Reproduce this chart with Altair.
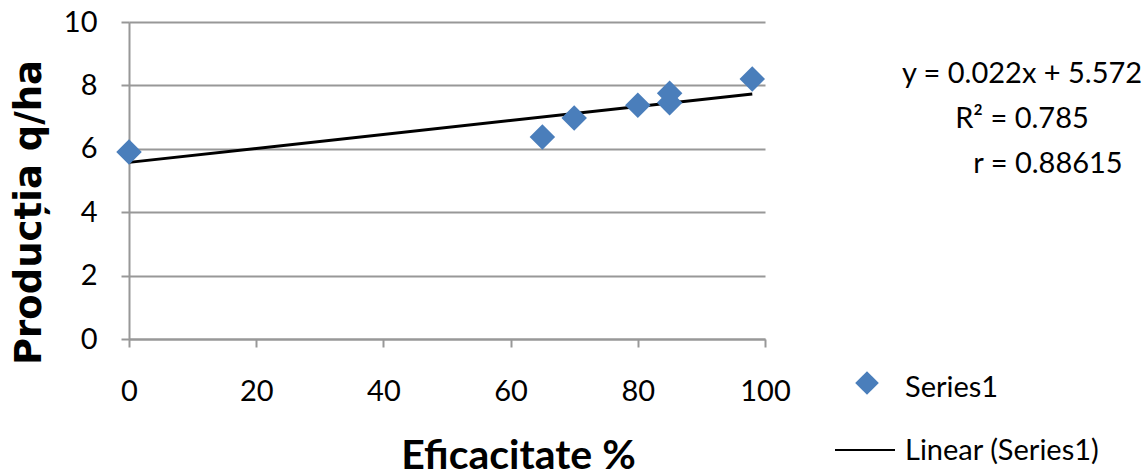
import altair as alt
import pandas as pd

# Observed points: efficacy (%) vs. yield (q/ha)
eficacitate = [0, 65, 70, 80, 85, 85, 98]
productia = [5.9, 6.37, 6.97, 7.37, 7.45, 7.75, 8.2]

# Linear trend as reported
slope = 0.022
intercept = 5.572
trend_x = [0, 98]

equation_lines = ["y = 0.022x + 5.572", "R\u00b2 = 0.785", "r = 0.88615"]
legend_labels = ["Series1", "Linear (Series1)"]

x_ticks = [0, 20, 40, 60, 80, 100]
y_ticks = [0, 2, 4, 6, 8, 10]

BLUE = "#4A7EBB"
GRID = "#989898"
FONT = "Lato"

points = pd.DataFrame({"x": eficacitate, "y": productia})
trend = pd.DataFrame({"x": trend_x, "y": [slope * v + intercept for v in trend_x]})

x_scale = alt.Scale(domain=[0, 100], nice=False)
y_scale = alt.Scale(domain=[0, 10], nice=False)

x_axis = alt.Axis(
    values=x_ticks, title="Eficacitate %", grid=False, labelFlush=False,
    tickSize=8, labelPadding=30, labelFontSize=29, labelFont=FONT,
    titleFont=FONT, titleFontSize=41, titleFontWeight="bold",
    titleX=389, titleY=129, titleBaseline="alphabetic", titleAlign="center",
)
y_axis = alt.Axis(
    values=y_ticks, title="Producția q/ha", grid=True, labelFlush=False,
    tickSize=8, labelPadding=24, labelFontSize=29, labelFont=FONT,
    titleFont="DejaVu Sans", titleFontSize=37, titleFontWeight="bold",
    titleAngle=270, titleX=-89, titleY=190, titleBaseline="alphabetic",
    titleAlign="center",
)

trend_line = alt.Chart(trend).mark_line(color="black", strokeWidth=3, clip=False).encode(
    x=alt.X("x:Q", scale=x_scale, axis=x_axis),
    y=alt.Y("y:Q", scale=y_scale, axis=y_axis),
)

markers = alt.Chart(points).mark_point(
    shape="diamond", filled=True, size=650, color=BLUE, opacity=1, clip=False
).encode(
    x=alt.X("x:Q", scale=x_scale),
    y=alt.Y("y:Q", scale=y_scale),
)

one = pd.DataFrame({"k": [0]})


def label(text, x, y, align="center"):
    return alt.Chart(one).mark_text(
        text=text, font=FONT, fontSize=29, color="black",
        align=align, baseline="alphabetic",
    ).encode(x=alt.value(x), y=alt.value(y))


equation = alt.layer(
    label(equation_lines[0], 893, 61),
    label(equation_lines[1], 893, 106),
    label(equation_lines[2], 919, 151),
)

legend = alt.layer(
    alt.Chart(one).mark_point(
        shape="diamond", filled=True, size=560, color=BLUE, opacity=1
    ).encode(x=alt.value(738), y=alt.value(361)),
    alt.Chart(one).mark_rule(color="black", strokeWidth=2).encode(
        x=alt.value(706), x2=alt.value(766), y=alt.value(428)
    ),
    label(legend_labels[0], 776, 375, align="left"),
    label(legend_labels[1], 776, 438, align="left"),
)

chart = alt.layer(trend_line, markers, equation, legend).properties(
    width=636,
    height=317,
    padding={"left": 129, "top": 22, "right": 382, "bottom": 137},
    autosize=alt.AutoSizeParams(type="none"),
    background="white",
).configure_view(stroke=None).configure_axis(
    domainColor=GRID, domainWidth=2, tickColor=GRID, tickWidth=2,
    gridColor=GRID, gridWidth=2, labelColor="black", titleColor="black",
)

chart.save("out.html", embed_options={"renderer": "svg", "actions": False})
